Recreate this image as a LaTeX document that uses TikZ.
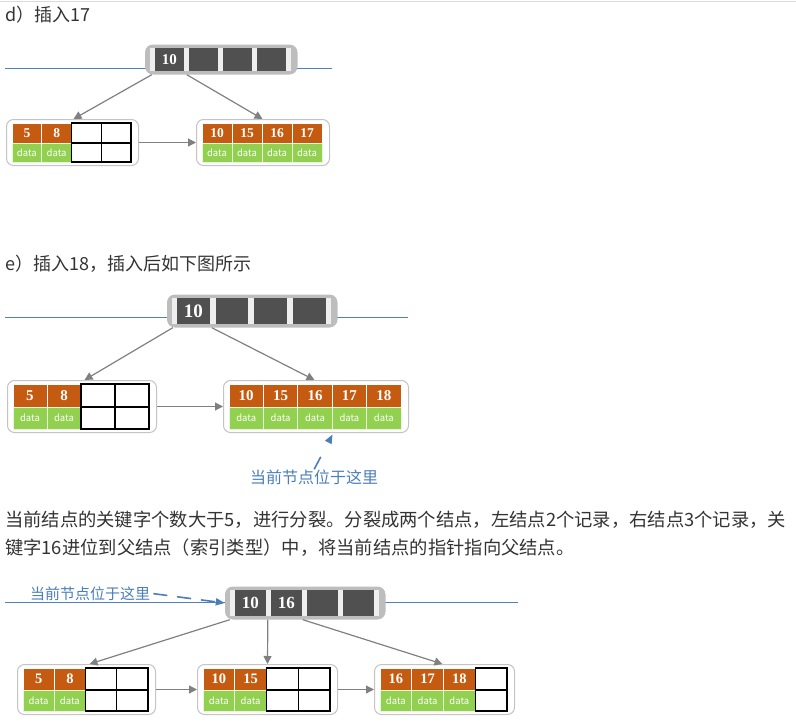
\documentclass[tikz,border=0pt]{standalone}
\usepackage{fontspec}
\setmainfont{Noto Sans CJK SC}
\newfontfamily\keyfont{Liberation Serif}
\usepackage{xcolor}
\usepackage{tikz}
\usetikzlibrary{arrows.meta}
\definecolor{keyorange}{HTML}{C55A11}
\definecolor{datagreen}{HTML}{92D050}
\definecolor{rootdark}{HTML}{505050}
\definecolor{rootgray}{HTML}{BDBDBD}
\definecolor{rootgap}{HTML}{EEEEEE}
\definecolor{leafedge}{HTML}{C4C4C4}
\definecolor{linkgray}{HTML}{808080}
\definecolor{levelblue}{HTML}{4F81BD}
\definecolor{noteblue}{HTML}{4A7EBB}
\definecolor{bodytext}{HTML}{333333}
\definecolor{rulegray}{HTML}{DADADA}
\newcount\keycount
\tikzset{
  leafbox/.style={draw=leafedge, fill=white, line width=1pt, rounded corners=7pt, inner sep=0pt},
  keycell/.style={fill=keyorange, draw=white, line width=0.8pt, inner sep=0pt, text=white},
  datacell/.style={fill=datagreen, draw=white!80!datagreen, line width=0.8pt, inner sep=0pt, text=white,
    font=\fontsize{9.5}{9.5}\selectfont},
  nullcell/.style={draw=black, fill=white, line width=1.1pt, inner sep=0pt},
  rootbox/.style={fill=rootgray, rounded corners=8pt, inner sep=0pt},
  rootstrip/.style={fill=rootgap, inner sep=0pt},
  rootcell/.style={fill=rootdark, inner sep=0pt, text=white},
  link/.style={draw=linkgray, line width=1.2pt, -{Triangle[length=8pt,width=8pt]}},
  level/.style={draw=levelblue, line width=0.8pt},
  note/.style={text=noteblue, inner sep=0pt, anchor=base west},
  noteline/.style={draw=noteblue, line width=1.6pt, -{Triangle[length=9pt,width=7pt]}},
  head/.style={text=bodytext, inner sep=0pt, anchor=base west, font=\fontsize{18}{28}\selectfont},
}
% root: name, first cell x, top y, cell width, pitch, cell height, keys, font size
\newcommand{\broot}[8]{%
  \pgfmathsetmacro\rootL{#2-10}\pgfmathsetmacro\rootR{#2+3*#5+#4+12}%
  \pgfmathsetmacro\rootT{#3-3.5}\pgfmathsetmacro\rootB{#3+#6+3.5}%
  \node[rootbox, minimum width={\rootR-\rootL}, minimum height={\rootB-\rootT}] (#1)
    at ({(\rootL+\rootR)/2},{(\rootT+\rootB)/2}) {};
  \node[rootstrip, minimum width={3*#5+#4+10}, minimum height=#6] at ({#2+(3*#5+#4)/2},{#3+#6/2}) {};
  \foreach \j in {1,...,4}
    \node[rootcell, minimum width=#4, minimum height=#6] (#1c\j) at ({#2+(\j-1)*#5+#4/2},{#3+#6/2}) {};
  \foreach \k [count=\i] in {#7}
    \node[text=white, font={\keyfont\bfseries\fontsize{#8}{#8}\selectfont}] at (#1c\i) {\k};
}
% leaf: name, cell x, top y, cell width, key row, data row, cells, keys, font size
\newcommand{\bleaf}[9]{%
  \pgfmathsetmacro\leafL{#2-5.5}\pgfmathsetmacro\leafR{#2+#7*#4+7.5}%
  \pgfmathsetmacro\leafT{#3-3.5}\pgfmathsetmacro\leafB{#3+#5+#6+3.5}%
  \node[leafbox, minimum width={\leafR-\leafL}, minimum height={\leafB-\leafT}] (#1)
    at ({(\leafL+\leafR)/2},{(\leafT+\leafB)/2}) {};
  \global\keycount=0
  \foreach \k [count=\i] in {#8} {
    \global\advance\keycount by 1
    \node[keycell, minimum width=#4, minimum height=#5, font={\keyfont\bfseries\fontsize{#9}{#9}\selectfont}]
      (#1k\i) at ({#2+(\i-0.5)*#4},{#3+#5/2}) {\k};
    \node[datacell, minimum width=#4, minimum height=#6] (#1d\i) at ({#2+(\i-0.5)*#4},{#3+#5+#6/2}) {data};
  }
  \foreach \j in {1,...,#7} {
    \ifnum\j>\keycount
      \node[nullcell, minimum width=#4, minimum height=#5] at ({#2+(\j-0.5)*#4},{#3+#5/2}) {};
      \node[nullcell, minimum width=#4, minimum height=#6] at ({#2+(\j-0.5)*#4},{#3+#5+#6/2}) {};
    \fi
  }
}
\begin{document}
\begin{tikzpicture}[x=1pt,y=-1pt]
  \useasboundingbox (0,0) rectangle (796,728);
  \draw[rulegray, line width=1.5pt] (0,1.5) -- (796,1.5);

  % d) insert 17
  \node[head] (headD) at (5,21.5) {d）插入17};
  \draw[level] (5,68) -- (332,68);
  \broot{rD}{155}{48}{28.5}{34}{23}{10}{15}
  \bleaf{lDa}{12}{123}{29.75}{20}{19}{4}{5,8}{13.5}
  \bleaf{lDb}{202}{123}{30}{20}{19}{4}{10,15,16,17}{13.5}
  \draw[link] ([xshift=7pt]rD.south west) -- ([xshift=67.5pt]lDa.north west);
  \draw[link] ([xshift=42pt]rD.south west) -- ([xshift=66.5pt]lDb.north west);
  \draw[link] (lDa.east) -- (lDb.west);

  % e) insert 18
  \node[head] (headE) at (5,270) {e）插入18，插入后如下图所示};
  \draw[level] (5,317) -- (408,317);
  \broot{rE}{177}{298}{32.5}{38.67}{26}{10}{19}
  \bleaf{lEa}{13}{384}{34}{23}{22}{4}{5,8}{15}
  \bleaf{lEb}{229}{384}{34.4}{23}{22}{5}{10,15,16,17,18}{15}
  \draw[link] ([xshift=6pt]rE.south west) -- ([xshift=77.5pt]lEa.north west);
  \draw[link] ([xshift=45pt]rE.south west) -- ([xshift=91.5pt]lEb.north west);
  \draw[link] (lEa.east) -- (lEb.west);
  \node[note, font=\fontsize{16}{16}\selectfont] (noteE) at (250,483) {当前节点位于这里};
  \draw[noteline, dash pattern=on 14pt off 20pt] (noteE.north) -- ([xshift=109.5pt,yshift=-1.5pt]lEb.south west);

  % split
  \node[head, align=left, font=\fontsize{18.3}{28}\selectfont] (para) at (5,554)
    {当前结点的关键字个数大于5，进行分裂。分裂成两个结点，左结点2个记录，右结点3个记录，关\\
     键字16进位到父结点（索引类型）中，将当前结点的指针指向父结点。};
  \draw[level] (5,602) -- (518,602);
  \broot{rF}{235}{590}{30.5}{36}{26}{10,16}{17}
  \bleaf{lFa}{23}{668}{31.25}{22}{21}{4}{5,8}{14.5}
  \bleaf{lFb}{203}{668}{31.75}{22}{21}{4}{10,15}{14.5}
  \bleaf{lFc}{380}{668}{31.75}{22}{21}{4}{16,17,18}{14.5}
  \draw[link] ([xshift=5pt]rF.south west) -- ([xshift=72.5pt]lFa.north west);
  \draw[link] ([xshift=43pt]rF.south west) -- ([xshift=70.5pt]lFb.north west);
  \draw[link] ([xshift=78pt]rF.south west) -- ([xshift=68.5pt]lFc.north west);
  \draw[link] (lFa.east) -- (lFb.west);
  \draw[link] (lFb.east) -- (lFc.west);
  \node[note, font=\fontsize{15}{15}\selectfont] (noteF) at (30,599) {当前节点位于这里};
  \draw[noteline, dash pattern=on 14pt off 10pt, shorten <=3pt] (noteF.east) -- (rF.west);
\end{tikzpicture}
\end{document}
